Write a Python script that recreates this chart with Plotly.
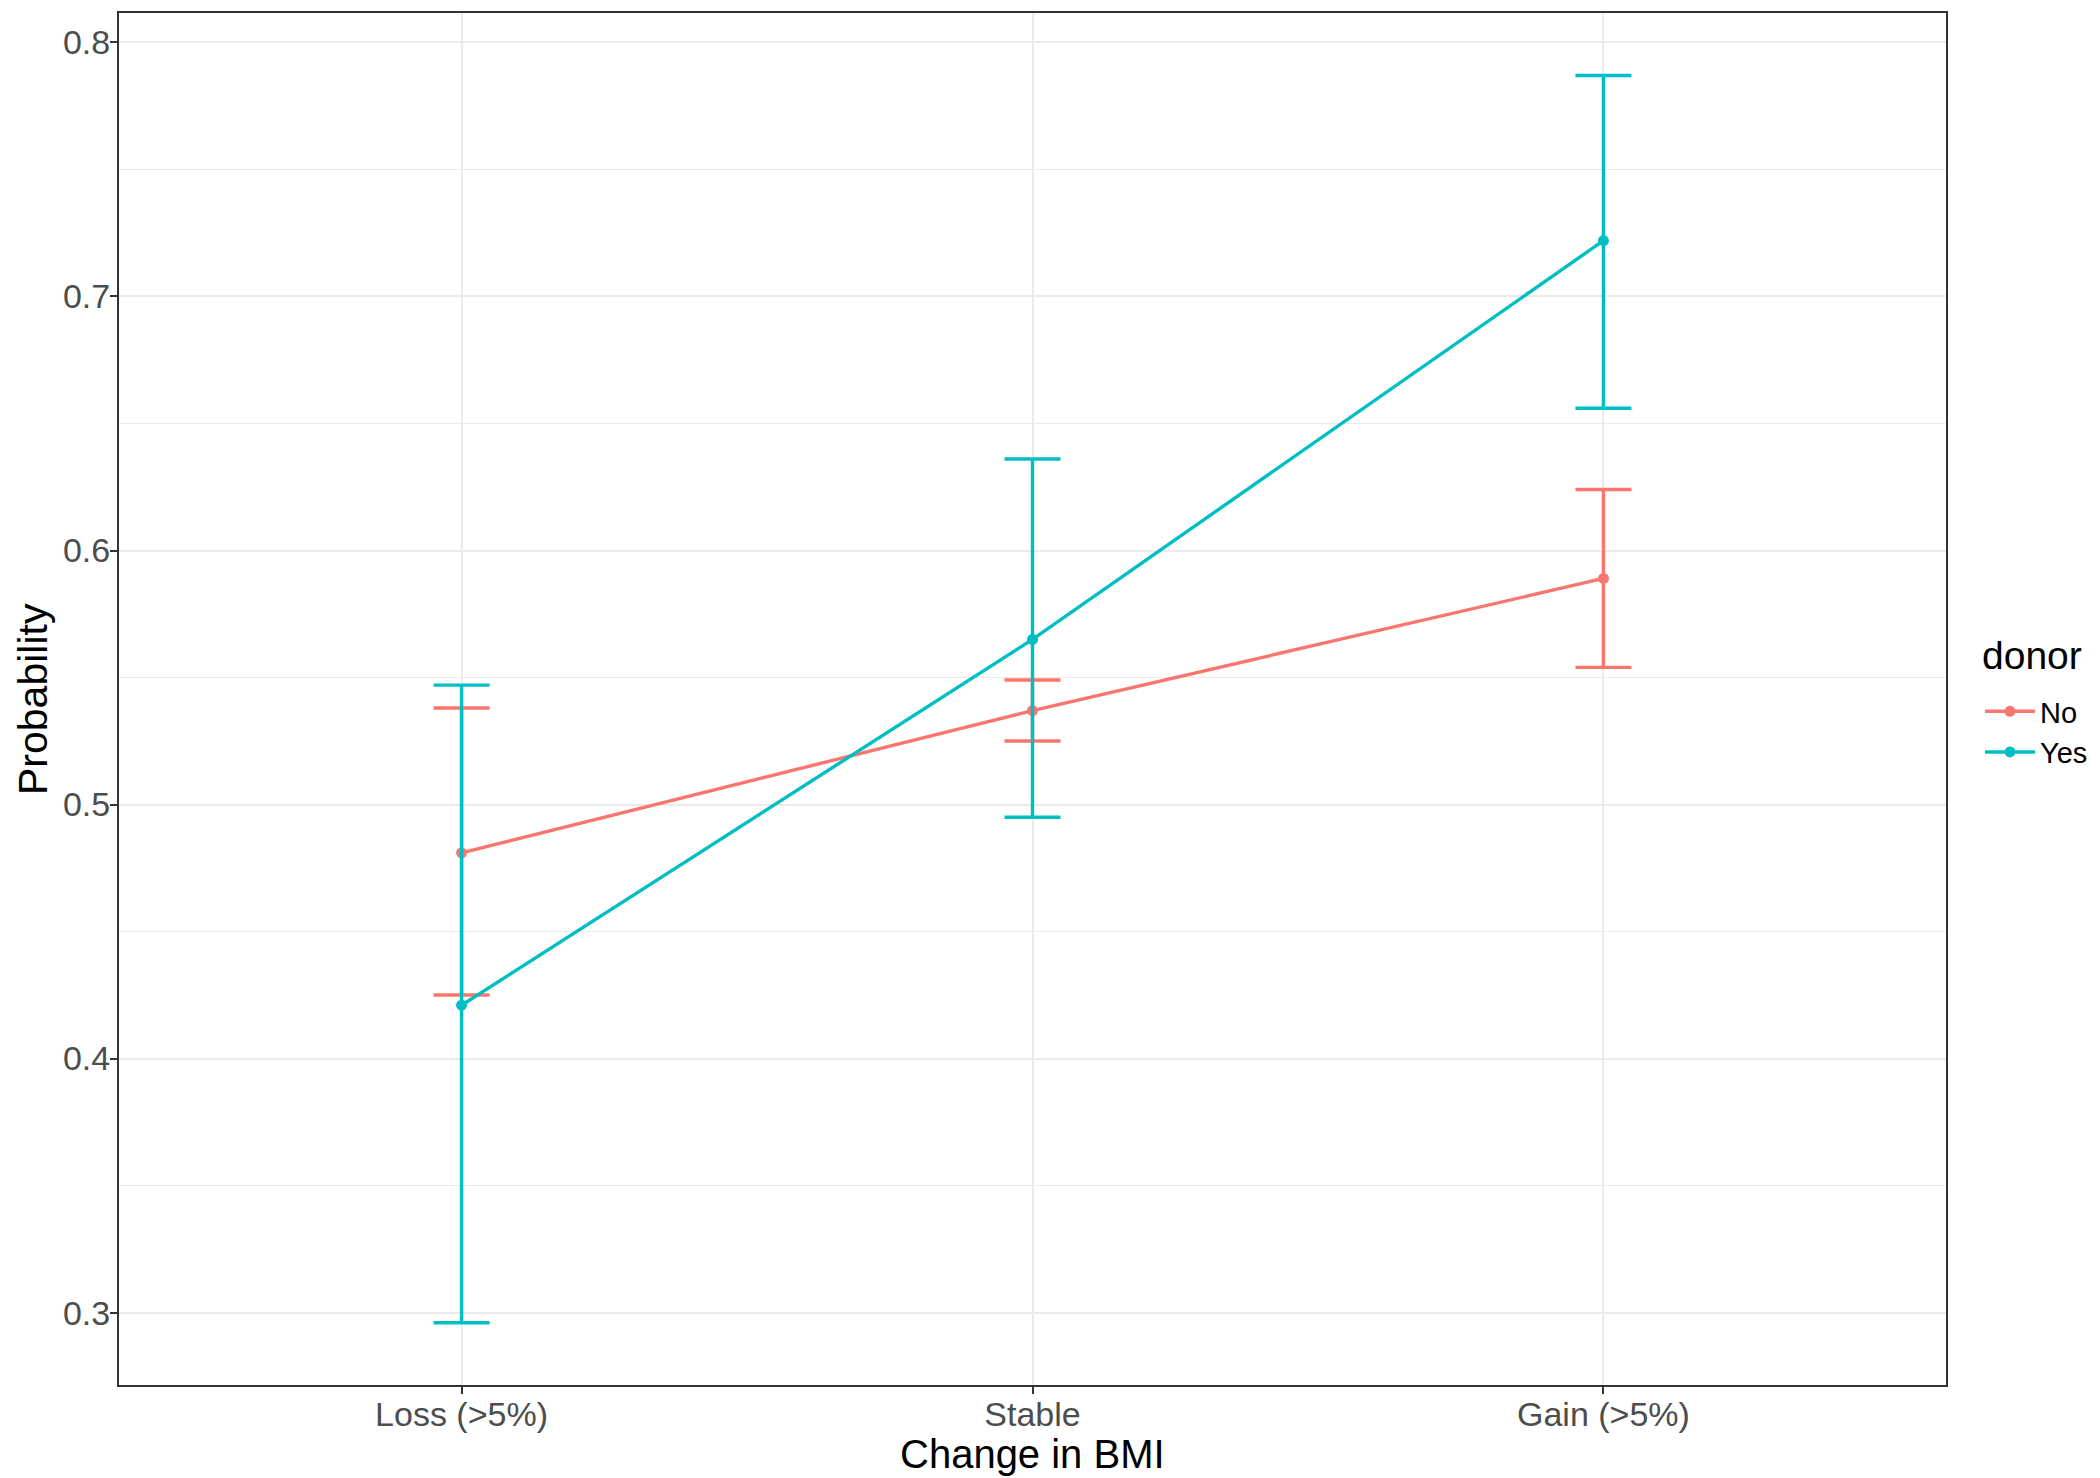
import plotly.graph_objects as go

categories = ["Loss (>5%)", "Stable", "Gain (>5%)"]
no_prob = [0.481, 0.537, 0.589]
no_upper = [0.538, 0.549, 0.624]
no_lower = [0.425, 0.525, 0.554]
yes_prob = [0.421, 0.565, 0.722]
yes_upper = [0.547, 0.636, 0.787]
yes_lower = [0.296, 0.495, 0.656]
y_ticks = [0.3, 0.4, 0.5, 0.6, 0.7, 0.8]
y_minor = [0.35, 0.45, 0.55, 0.65, 0.75]

series = [
    ("No", no_prob, no_upper, no_lower, "#F8766D"),
    ("Yes", yes_prob, yes_upper, yes_lower, "#00BFC4"),
]

fig = go.Figure()
for name, p, up, lo, col in series:
    fig.add_trace(go.Scatter(
        x=categories, y=p, name=name, mode="lines+markers",
        line=dict(color=col, width=3.4),
        marker=dict(color=col, size=11),
        error_y=dict(type="data", symmetric=False,
                     array=[u - v for u, v in zip(up, p)],
                     arrayminus=[v - l for v, l in zip(p, lo)],
                     color=col, thickness=3.4, width=28),
    ))

FONT = "Liberation Sans, Arial, sans-serif"
# page body adds an 8px margin, so the figure is 2092x1470 and shifted margins
fig.update_layout(
    width=2092, height=1470,
    margin=dict(l=111, r=154, t=5, b=93, autoexpand=False),
    paper_bgcolor="white", plot_bgcolor="white",
    font=dict(family=FONT, color="black"),
    showlegend=True,
    legend=dict(
        font=dict(size=29, family=FONT, color="black"),
        x=1.0186, xanchor="left", y=0.476, yanchor="middle",
        bgcolor="rgba(0,0,0,0)", itemwidth=50,
    ),
    xaxis=dict(
        type="category", range=[-0.6, 2.6], automargin=False,
        tickfont=dict(size=34, family=FONT, color="#4D4D4D"),
        showgrid=True, gridcolor="#EBEBEB", gridwidth=1.5,
        showline=True, linecolor="#333333", linewidth=2, mirror=True,
        ticks="outside", ticklen=7, tickwidth=2, tickcolor="#333333",
        ticklabelstandoff=-9,
        zeroline=False,
    ),
    yaxis=dict(
        range=[0.2715, 0.8116], automargin=False,
        tickvals=y_ticks,
        ticktext=[f"{v:.1f}" for v in y_ticks],
        tickfont=dict(size=34, family=FONT, color="#4D4D4D"),
        showgrid=True, gridcolor="#EBEBEB", gridwidth=1.5,
        minor=dict(tickvals=y_minor, showgrid=True,
                   gridcolor="#EBEBEB", gridwidth=1, ticks=""),
        showline=True, linecolor="#333333", linewidth=2, mirror=True,
        ticks="outside", ticklen=7, tickwidth=2, tickcolor="#333333",
        ticklabelstandoff=-7,
        zeroline=False,
    ),
    annotations=[
        dict(text="Change in BMI", xref="paper", yref="paper", x=0.5, y=0,
             xanchor="center", yanchor="middle", yshift=-69, showarrow=False,
             font=dict(size=40, family=FONT, color="black")),
        dict(text="Probability", xref="paper", yref="paper", x=0, y=0.5,
             xanchor="center", yanchor="middle", xshift=-86, textangle=-90,
             showarrow=False, font=dict(size=41, family=FONT, color="black")),
        dict(text="donor", xref="paper", yref="paper", x=1, y=0.5,
             xanchor="left", yanchor="middle", xshift=34, yshift=44,
             showarrow=False, font=dict(size=39, family=FONT, color="black")),
    ],
)

fig.write_html("out.html")
